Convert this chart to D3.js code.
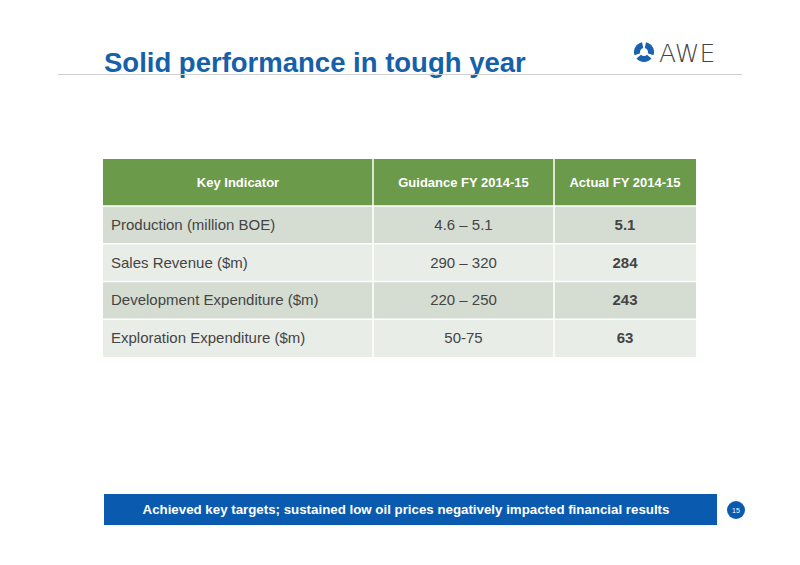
<!DOCTYPE html>
<html><head><meta charset="utf-8">
<script src="https://cdn.jsdelivr.net/npm/d3@7"></script>
<style>body{margin:0;background:#fff}</style>
</head><body>
<script>
var headers = ["Key Indicator", "Guidance FY 2014-15", "Actual FY 2014-15"];
var indicators = ["Production (million BOE)", "Sales Revenue ($m)", "Development Expenditure ($m)", "Exploration Expenditure ($m)"];
var guidance = ["4.6 \u2013 5.1", "290 \u2013 320", "220 \u2013 250", "50-75"];
var actual = ["5.1", "284", "243", "63"];

var svg = d3.select("body").append("svg").attr("width", 800).attr("height", 565)
  .style("font-family", "Liberation Sans, Arial, sans-serif");

svg.append("text").attr("x", 104).attr("y", 72).attr("fill", "#1561a9")
  .attr("font-size", 27.5).attr("font-weight", "bold").text("Solid performance in tough year");
svg.append("line").attr("x1", 58).attr("x2", 742).attr("y1", 74.5).attr("y2", 74.5)
  .attr("stroke", "#d0d0d0").attr("stroke-width", 1.2);

// logo
var logo = svg.append("g").attr("transform", "translate(644,52)");
[0, 120, 240].forEach(function(a) {
  logo.append("path").attr("transform", "rotate(" + a + ")")
    .attr("d", d3.arc()({innerRadius: 4, outerRadius: 10, startAngle: 0.2, endAngle: 1.9}))
    .attr("fill", "#1a62ae");
});
svg.append("text").attr("x", 659).attr("y", 62).attr("font-size", 25)
  .attr("fill", "#444").attr("font-family", "DejaVu Sans, sans-serif").style("font-weight", "200")
  .text("AWE");

// table
var colEdges = [103, 373, 554, 696];
var y = d3.scaleBand().domain(d3.range(indicators.length)).range([206, 357]);
var t = svg.append("g");
t.append("rect").attr("x", 103).attr("y", 159).attr("width", 593).attr("height", 47).attr("fill", "#6a9a4a");
headers.forEach(function(h, i) {
  t.append("text").attr("x", (colEdges[i] + colEdges[i + 1]) / 2).attr("y", 187)
    .attr("text-anchor", "middle").attr("fill", "#fff").attr("font-size", 13).attr("font-weight", "bold").text(h);
});
var rows = t.selectAll("g.row").data(indicators).enter().append("g");
rows.append("rect").attr("x", 103).attr("y", function(d, i) { return y(i); })
  .attr("width", 593).attr("height", y.bandwidth())
  .attr("fill", function(d, i) { return i % 2 ? "#e9ede7" : "#d5ddd2"; });
rows.append("text").attr("x", 111).attr("y", function(d, i) { return y(i) + y.bandwidth() / 2 + 5; })
  .attr("font-size", 15).attr("fill", "#444").text(function(d) { return d; });
rows.append("text").attr("x", (colEdges[1] + colEdges[2]) / 2).attr("y", function(d, i) { return y(i) + y.bandwidth() / 2 + 5; })
  .attr("text-anchor", "middle").attr("font-size", 15).attr("fill", "#444").text(function(d, i) { return guidance[i]; });
rows.append("text").attr("x", (colEdges[2] + colEdges[3]) / 2).attr("y", function(d, i) { return y(i) + y.bandwidth() / 2 + 5; })
  .attr("text-anchor", "middle").attr("font-size", 15).attr("font-weight", "bold").attr("fill", "#444").text(function(d, i) { return actual[i]; });
[373, 554].forEach(function(cx) {
  t.append("line").attr("x1", cx).attr("x2", cx).attr("y1", 159).attr("y2", 357).attr("stroke", "#fff").attr("stroke-width", 1.5);
});
y.domain().forEach(function(i) {
  t.append("line").attr("x1", 103).attr("x2", 696).attr("y1", y(i)).attr("y2", y(i)).attr("stroke", "#fff").attr("stroke-width", 1.5);
});

// footer
svg.append("rect").attr("x", 104).attr("y", 494).attr("width", 613).attr("height", 31).attr("fill", "#0a5bb0");
svg.append("text").attr("x", 406).attr("y", 514).attr("text-anchor", "middle").attr("fill", "#fff")
  .attr("font-size", 13.3).attr("font-weight", "bold")
  .text("Achieved key targets; sustained low oil prices negatively impacted financial results");
svg.append("circle").attr("cx", 736).attr("cy", 510).attr("r", 9).attr("fill", "#0a5bb0");
svg.append("text").attr("x", 736).attr("y", 513).attr("text-anchor", "middle").attr("fill", "#fff")
  .attr("font-size", 7).text("15");
</script>
</body></html>
